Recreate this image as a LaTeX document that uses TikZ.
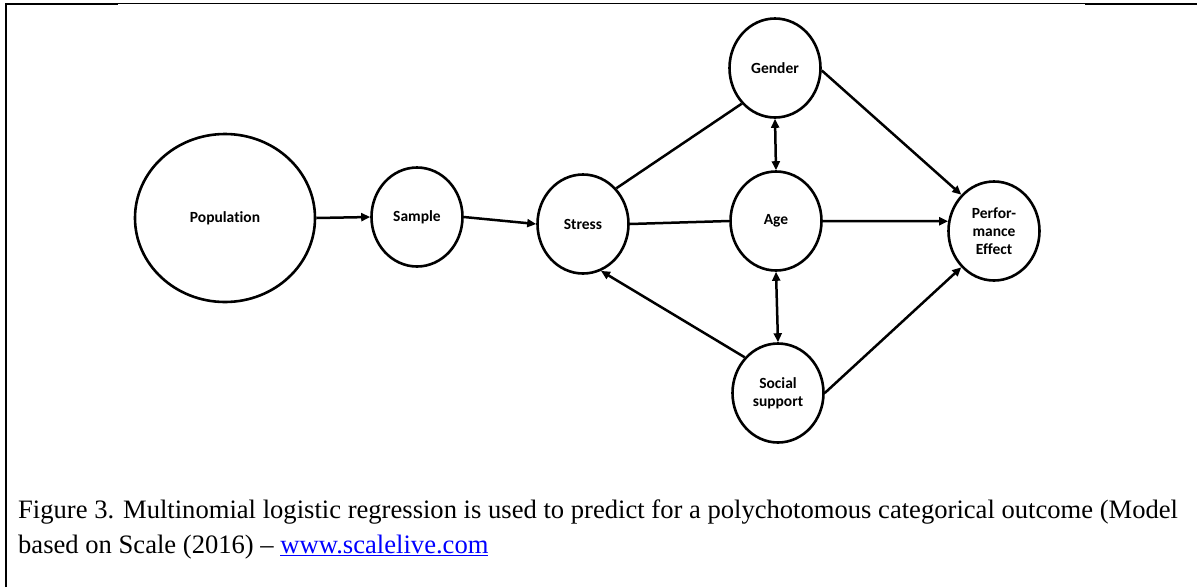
\documentclass[tikz,border=0pt]{standalone}
\usepackage{fontspec}
\setmainfont{Liberation Serif}
\newfontfamily\calib[Ligatures=NoCommon]{Carlito}
\usetikzlibrary{shapes.geometric,arrows.meta}
\begin{document}
\begin{tikzpicture}[x=1pt,y=-1pt,
 var/.style={draw,ellipse,line width=2.6pt,inner sep=0pt,minimum width=91pt,minimum height=99pt,
   font=\calib\bfseries\fontsize{15.5}{18}\selectfont,align=center},
 conn/.style={line width=2.5pt},
 arr/.style={conn,-{Triangle[length=9pt,width=8pt]}},
 darr/.style={conn,{Triangle[length=9pt,width=8pt]}-{Triangle[length=9pt,width=8pt]}},
 thickframe/.style={line width=2pt},
 thinframe/.style={line width=1pt},
 captext/.style={anchor=base west,inner sep=0pt,font=\fontsize{26.6}{35}\selectfont}
]
\useasboundingbox (0,0) rectangle (1197,587);
% frame
\draw[thickframe] (6,587) -- (6,4) -- (118,4);
\draw[thinframe] (118,3.5) -- (1085,3.5);
\draw[thickframe] (1085,4) -- (1197,4);
% nodes
\node[var,minimum width=180pt,minimum height=168pt] (pop) at (225,218) {Population};
\node[var] (sample) at (417,217) {Sample};
\node[var] (stress) at (583,224) {Stress};
\node[var] (gender) at (775,68) {Gender};
\node[var] (age) at (776,221) {Age};
\node[var] (social) at (778,393) {Social\\support};
\node[var] (perf) at (994,231) {Perfor-\\mance\\Effect};
% connectors
\draw[arr] (pop.east) -- (sample.west);
\draw[arr] (sample.east) -- (stress.west);
\draw[conn] (stress.47) -- (gender.227);
\draw[conn] (stress.east) -- (age.west);
\draw[arr] (social.133) -- (stress.-69);
\draw[darr] (gender.south) -- (age.north);
\draw[darr] (age.south) -- (social.north);
\draw[arr] (gender.-3) -- (perf.132);
\draw[arr] (age.east) -- (perf.168);
\draw[arr] (social.east) -- (perf.228);
% caption
\node[captext] (cap1) at (18,518) {Figure 3. Multinomial logistic regression is used to predict for a polychotomous categorical outcome (Model};
\node[captext] (cap2) at (18,553) {based on Scale (2016) – \textcolor{blue}{\underline{www.scalelive.com}}};
\end{tikzpicture}
\end{document}
